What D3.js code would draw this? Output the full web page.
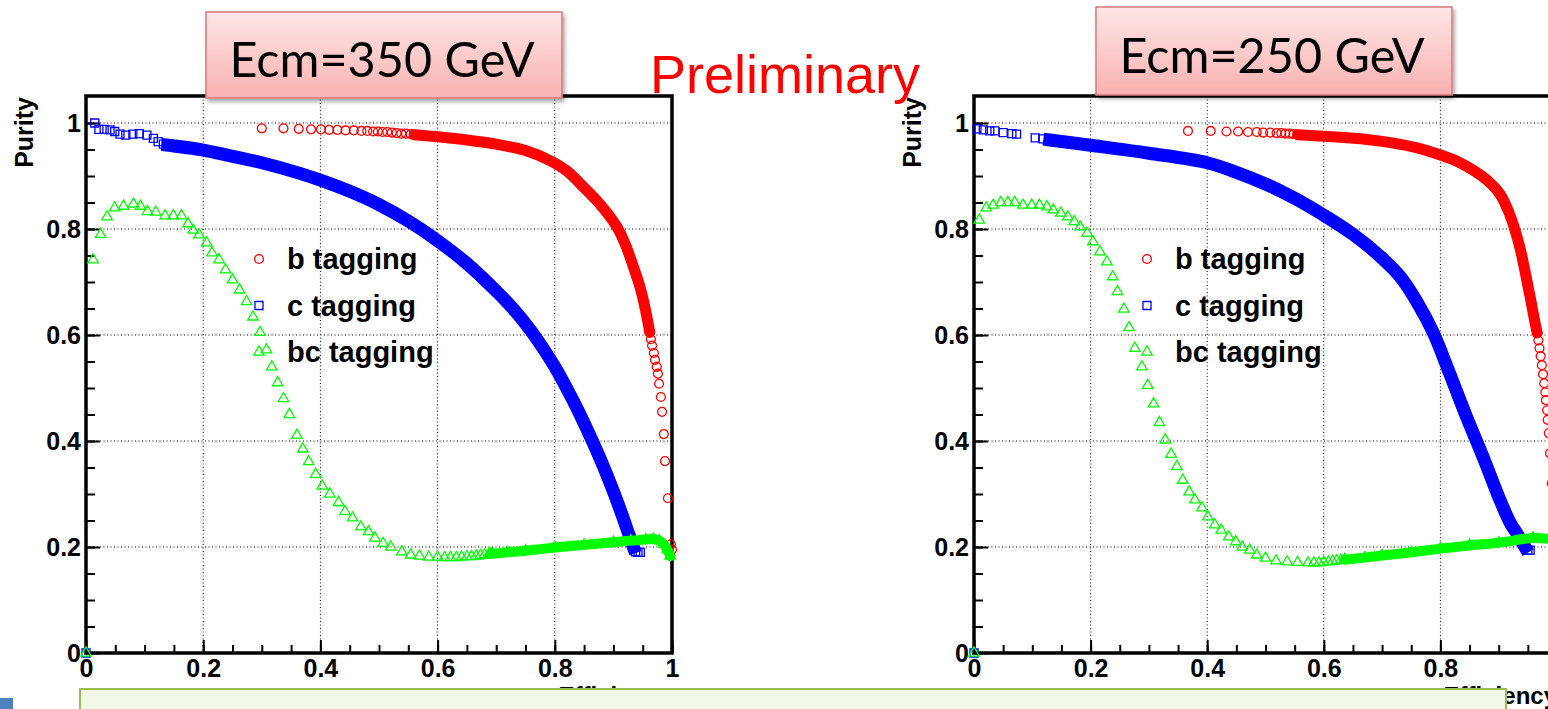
<!DOCTYPE html>
<html>
<head>
<meta charset="utf-8">
<script src="https://cdn.jsdelivr.net/npm/d3@7"></script>
<style>
body{margin:0;background:#fff;}
svg{display:block;}
</style>
</head>
<body>
<div id="plot"></div>
<script>
// axis ticks, shared by both pads
var effTicks = [0,0.2,0.4,0.6,0.8,1];
var purTicks = [0,0.2,0.4,0.6,0.8,1];
var legendLabels = ['b tagging','c tagging','bc tagging'];
var boxLabels = ['Ecm=350 GeV','Ecm=250 GeV'];

// ---- Ecm=350 GeV : [efficiency, purity] ----
// single markers (sparse parts of the scan)
var b350Pts = [[0.300,0.990],[0.337,0.990],[0.363,0.989],[0.384,0.988],[0.401,0.988],[0.415,0.987],[0.429,0.987],[0.443,0.986],[0.457,0.986],[0.470,0.985],[0.480,0.985],[0.490,0.984],[0.498,0.984],[0.506,0.983],[0.514,0.983],[0.522,0.982],[0.530,0.981],[0.538,0.980],[0.546,0.980],[0.554,0.979],
  [0.962,0.605],[0.964,0.592],[0.966,0.580],[0.969,0.566],[0.971,0.553],[0.974,0.540],[0.976,0.527],[0.978,0.508],[0.981,0.483],[0.983,0.455],[0.986,0.413],[0.988,0.362],[0.993,0.292],[0.998,0.205],[1.000,0.195]];
// dense run of markers, drawn as a solid band
var b350Band = [[0.560,0.978],[0.600,0.974],[0.650,0.968],[0.700,0.960],[0.750,0.948],[0.790,0.930],[0.820,0.910],[0.850,0.878],[0.880,0.843],[0.906,0.804],[0.920,0.772],[0.934,0.729],[0.945,0.692],[0.951,0.666],[0.957,0.635],[0.962,0.605]];

var c350Pts = [[0,0],[0.015,1.000],[0.022,0.988],[0.031,0.988],[0.041,0.987],[0.049,0.984],[0.058,0.979],[0.068,0.977],[0.080,0.979],[0.091,0.980],[0.104,0.977],[0.115,0.971],[0.123,0.965],[0.132,0.960],
  [0.938,0.191],[0.942,0.190],[0.946,0.190]];
var c350Band = [[0.140,0.958],[0.200,0.949],[0.250,0.937],[0.300,0.925],[0.365,0.905],[0.400,0.892],[0.450,0.871],[0.500,0.846],[0.550,0.815],[0.600,0.778],[0.650,0.735],[0.700,0.683],[0.730,0.648],[0.760,0.607],[0.780,0.575],[0.800,0.540],[0.820,0.500],[0.840,0.457],[0.860,0.410],[0.880,0.360],[0.900,0.305],[0.915,0.260],[0.926,0.225],[0.934,0.200]];

var g350Pts = [[0,0],[0.012,0.742],[0.025,0.790],[0.036,0.823],[0.049,0.840],[0.064,0.843],[0.081,0.847],[0.093,0.843],[0.105,0.833],[0.119,0.832],[0.135,0.825],[0.149,0.825],[0.163,0.825],[0.174,0.810],[0.183,0.798],[0.193,0.789],[0.206,0.774],[0.215,0.755],[0.227,0.742],[0.238,0.723],[0.250,0.704],[0.262,0.685],[0.274,0.663],[0.285,0.634],[0.297,0.605],[0.308,0.572],[0.317,0.540],[0.327,0.510],[0.337,0.480],[0.347,0.450],[0.360,0.411],[0.370,0.385],[0.380,0.361],[0.392,0.337],[0.403,0.315],[0.416,0.300],[0.431,0.284],[0.442,0.267],[0.455,0.255],[0.469,0.238],[0.482,0.229],[0.493,0.217],[0.507,0.207],[0.520,0.200],[0.539,0.191],[0.554,0.185],[0.569,0.183],[0.585,0.181],[0.600,0.181],[0.612,0.180],[0.622,0.180],[0.632,0.180],[0.641,0.181],[0.650,0.182],[0.658,0.182],[0.666,0.183],[0.673,0.184],[0.680,0.185],[0.687,0.186],[0.693,0.187]];
var g350Band = [[0.690,0.187],[0.720,0.190],[0.750,0.193],[0.800,0.199],[0.850,0.204],[0.900,0.209],[0.930,0.212],[0.955,0.214],[0.968,0.215],[0.978,0.212],[0.986,0.205],[0.992,0.195],[0.997,0.183]];

// ---- Ecm=250 GeV ----
var b250Pts = [[0.367,0.985],[0.406,0.985],[0.433,0.984],[0.453,0.984],[0.470,0.983],[0.485,0.983],[0.496,0.982],[0.508,0.982],[0.519,0.981],[0.527,0.981],[0.534,0.980],[0.541,0.980],[0.548,0.979],
  [0.966,0.604],[0.968,0.590],[0.970,0.575],[0.972,0.560],[0.974,0.543],[0.976,0.526],[0.978,0.509],[0.980,0.492],[0.981,0.477],[0.983,0.458],[0.984,0.440],[0.986,0.415],[0.988,0.377],[0.991,0.320],[0.995,0.260],[1.000,0.200]];
var b250Band = [[0.555,0.978],[0.600,0.975],[0.674,0.969],[0.720,0.962],[0.760,0.953],[0.799,0.940],[0.830,0.927],[0.856,0.911],[0.880,0.892],[0.902,0.866],[0.915,0.838],[0.926,0.805],[0.937,0.762],[0.947,0.710],[0.956,0.660],[0.962,0.625],[0.966,0.604]];

var c250Pts = [[0,0],[0.005,0.989],[0.016,0.987],[0.027,0.985],[0.036,0.985],[0.050,0.982],[0.065,0.980],[0.073,0.979],[0.105,0.972],[0.118,0.970],
  [0.950,0.194],[0.954,0.194]];
var c250Band = [[0.130,0.968],[0.200,0.958],[0.300,0.943],[0.400,0.925],[0.450,0.907],[0.500,0.885],[0.550,0.858],[0.600,0.826],[0.650,0.790],[0.700,0.745],[0.731,0.710],[0.760,0.662],[0.788,0.604],[0.815,0.530],[0.845,0.445],[0.875,0.365],[0.902,0.289],[0.920,0.245],[0.931,0.226],[0.945,0.200]];

var g250Pts = [[0,0],[0.009,0.817],[0.021,0.840],[0.033,0.845],[0.046,0.850],[0.058,0.850],[0.070,0.850],[0.084,0.845],[0.099,0.845],[0.112,0.845],[0.125,0.842],[0.136,0.836],[0.149,0.830],[0.161,0.823],[0.172,0.814],[0.182,0.804],[0.194,0.792],[0.204,0.776],[0.216,0.757],[0.228,0.738],[0.238,0.710],[0.246,0.682],[0.257,0.649],[0.266,0.614],[0.276,0.575],[0.288,0.540],[0.298,0.505],[0.308,0.470],[0.318,0.435],[0.328,0.402],[0.338,0.375],[0.348,0.352],[0.358,0.326],[0.369,0.304],[0.379,0.289],[0.391,0.274],[0.401,0.257],[0.413,0.242],[0.424,0.232],[0.437,0.219],[0.449,0.210],[0.460,0.200],[0.473,0.194],[0.485,0.185],[0.500,0.179],[0.518,0.174],[0.537,0.172],[0.555,0.171],[0.573,0.170],[0.583,0.170],[0.592,0.170],[0.600,0.171],[0.608,0.172],[0.615,0.173],[0.622,0.174],[0.629,0.175],[0.636,0.176]];
var g250Band = [[0.636,0.176],[0.670,0.180],[0.700,0.184],[0.750,0.190],[0.800,0.197],[0.850,0.203],[0.900,0.208],[0.959,0.217],[0.990,0.215]];

var W = 1548, H = 709;
var svg = d3.select('#plot').append('svg').attr('width',W).attr('height',H);
svg.append('rect').attr('width',W).attr('height',H).attr('fill','#fff');

var defs = svg.append('defs');
var grad = defs.append('linearGradient').attr('id','boxfill').attr('x1',0).attr('y1',0).attr('x2',0).attr('y2',1);
grad.append('stop').attr('offset','0%').attr('stop-color','#fde6e6');
grad.append('stop').attr('offset','100%').attr('stop-color','#f9b1b0');
defs.append('filter').attr('id','shadow').attr('x','-10%').attr('y','-10%').attr('width','130%').attr('height','140%')
  .append('feDropShadow').attr('dx',2).attr('dy',3).attr('stdDeviation',2).attr('flood-color','#000').attr('flood-opacity',0.35);

var padTop = 96, padBottom = 653;
var y = d3.scaleLinear().domain([0,1]).range([padBottom,123]);
var labelFont = '"Liberation Sans", Arial, sans-serif';

var styles = {
  circle:   {sym:d3.symbolCircle,   size:62, color:'#ff0000', band:11},
  square:   {sym:d3.symbolSquare,   size:64, color:'#0000ff', band:13},
  triangle: {sym:d3.symbolTriangle, size:48, color:'#00ff00', band:10}
};

function drawPad(l, r, series) {
  var x = d3.scaleLinear().domain([0,1]).range([l,r]);
  var g = svg.append('g');

  // dotted grid
  g.selectAll('.gx').data(effTicks.filter(function(d){return d>0 && d<1;})).enter()
    .append('line').attr('x1',x).attr('x2',x).attr('y1',padTop).attr('y2',padBottom)
    .attr('stroke','#000').attr('stroke-width',1).attr('stroke-dasharray','1,2.5');
  g.selectAll('.gy').data(purTicks.filter(function(d){return d>0;})).enter()
    .append('line').attr('y1',y).attr('y2',y).attr('x1',l).attr('x2',r)
    .attr('stroke','#000').attr('stroke-width',1).attr('stroke-dasharray','1,2.5');

  // axes, ticks pointing inward
  var fmt = d3.format('~g');
  g.append('g').attr('transform','translate('+l+',0)')
    .call(d3.axisLeft(y).tickValues(purTicks).tickSize(-14).tickPadding(5).tickFormat(fmt));
  g.append('g').attr('transform','translate('+l+',0)')
    .call(d3.axisLeft(y).tickValues(d3.range(0,1.05,0.05)).tickSize(-9).tickFormat(''));
  g.append('g').attr('transform','translate(0,'+padBottom+')')
    .call(d3.axisBottom(x).tickValues(effTicks).tickSize(-13).tickPadding(6).tickFormat(fmt));
  g.append('g').attr('transform','translate(0,'+padBottom+')')
    .call(d3.axisBottom(x).tickValues(d3.range(0,1.01,0.05)).tickSize(-8).tickFormat(''));
  g.selectAll('.domain').remove();
  g.selectAll('.tick line').attr('stroke','#000').attr('stroke-width',2);
  g.selectAll('.tick text').attr('fill','#000')
    .style('font-family',labelFont).style('font-weight','bold').style('font-size','25px');

  // frame
  g.append('rect').attr('x',l).attr('y',padTop).attr('width',r-l).attr('height',padBottom-padTop)
    .attr('fill','none').attr('stroke','#000').attr('stroke-width',3.5);

  // axis titles
  g.append('text').attr('transform','translate('+(l-53)+','+(padTop+1)+') rotate(-90)')
    .attr('text-anchor','end').text('Purity')
    .style('font-family',labelFont).style('font-weight','bold').style('font-size','25px');
  g.append('text').attr('x',r).attr('y',704).attr('text-anchor','end').text('Efficiency')
    .style('font-family',labelFont).style('font-weight','bold').style('font-size','24px');

  // data: dense runs as bands, then every marker
  series.forEach(function(s){
    var st = styles[s.kind];
    g.append('path').datum(s.band)
      .attr('d', d3.line().x(function(d){return x(d[0]);}).y(function(d){return y(d[1]);}).curve(d3.curveCatmullRom))
      .attr('fill','none').attr('stroke',st.color).attr('stroke-width',st.band)
      .attr('stroke-linecap',s.kind=='square'?'square':'round').attr('stroke-linejoin','round');
    g.selectAll(null).data(s.pts.concat(s.band)).enter().append('path')
      .attr('d', d3.symbol().type(st.sym).size(st.size))
      .attr('transform',function(d){return 'translate('+x(d[0])+','+y(d[1])+')';})
      .attr('fill','none').attr('stroke',st.color).attr('stroke-width',1.3);
  });

  // legend
  series.forEach(function(s,i){
    var st = styles[s.kind];
    var ly = 259 + i*46.5;
    g.append('path').attr('d', d3.symbol().type(st.sym).size(st.size))
      .attr('transform','translate('+(l+173)+','+ly+')')
      .attr('fill','none').attr('stroke',st.color).attr('stroke-width',1.3);
    g.append('text').attr('x',l+201).attr('y',ly+10).text(legendLabels[i])
      .style('font-family',labelFont).style('font-weight','bold').style('font-size','29px');
  });
}

drawPad(86, 672, [
  {kind:'circle', pts:b350Pts, band:b350Band},
  {kind:'square', pts:c350Pts, band:c350Band},
  {kind:'triangle', pts:g350Pts, band:g350Band}
]);
drawPad(974, 1557, [
  {kind:'circle', pts:b250Pts, band:b250Band},
  {kind:'square', pts:c250Pts, band:c250Band},
  {kind:'triangle', pts:g250Pts, band:g250Band}
]);

// slide decorations
svg.append('text').attr('x',650).attr('y',93).text('Preliminary').attr('fill','#ff0000')
  .style('font-family',labelFont).style('font-size','54px');

var boxes = [{x:206,y:12,w:356,h:86,base:77},{x:1096,y:7,w:356,h:88,base:73}];
boxes.forEach(function(b,i){
  svg.append('rect').attr('x',b.x).attr('y',b.y).attr('width',b.w).attr('height',b.h)
    .attr('fill','url(#boxfill)').attr('stroke','#d47b79').attr('stroke-width',1.5).attr('filter','url(#shadow)');
  svg.append('text').attr('x',b.x+b.w/2-2).attr('y',b.base).attr('text-anchor','middle')
    .attr('textLength',305).attr('lengthAdjust','spacingAndGlyphs').text(boxLabels[i])
    .style('font-family','Lato, "Open Sans", sans-serif').style('font-size','49px').attr('fill','#000');
});

svg.append('rect').attr('x',80).attr('y',689).attr('width',1426).attr('height',40)
  .attr('fill','#f1f8e8').attr('stroke','#9bbb59').attr('stroke-width',2);
svg.append('rect').attr('x',0).attr('y',698).attr('width',13).attr('height',11).attr('fill','#4f81bd');
</script>
</body>
</html>
